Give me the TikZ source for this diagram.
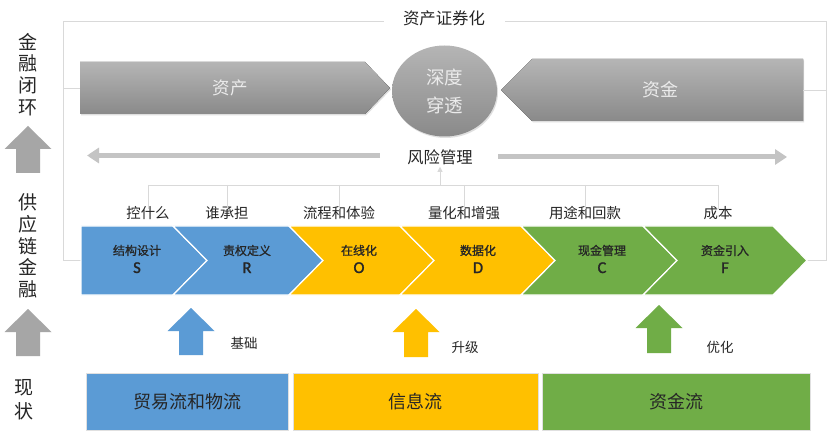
\documentclass[tikz,border=0pt]{standalone}
\usepackage{fontspec}
\setmainfont{Noto Sans CJK SC}
\newfontfamily\latinb[FakeBold=1.5]{Carlito}
\newfontfamily\cjkbold[FakeBold=1.2]{Noto Sans CJK SC}
\usetikzlibrary{arrows.meta,shadows,shapes.geometric}
\definecolor{cblue}{HTML}{5B9BD5}
\definecolor{cyell}{HTML}{FFC000}
\definecolor{cgreen}{HTML}{70AD47}
\definecolor{framec}{HTML}{D9D9D9}
\definecolor{riskc}{HTML}{C4C4C4}
\definecolor{txt}{HTML}{262626}
\newcommand\fs[2]{\fontsize{#1}{#2}\selectfont}
\newcommand\chev[4]{\fill[#3, draw=white, line width=1.2pt] (#1,226) -- (#2,226) -- (#2+34,260.5) -- (#2,295) -- (#1,295) -- (#1+#4,260.5) -- cycle;}
\newcommand\uparr[4]{\fill[#4] (#1,#2) -- (#1+23.5,#2+23) -- (#1+12,#2+23) -- (#1+12,#3) -- (#1-12,#3) -- (#1-12,#2+23) -- (#1-23.5,#2+23) -- cycle;}
\newcommand\chl[2]{{\cjkbold #1}\\{\latinb\fs{16.5}{18}#2}}
\tikzset{
  frameline/.style={draw=framec, line width=0.9pt},
  treeline/.style={draw=framec, line width=0.9pt},
  riskarrow/.style={draw=riskc, line width=5pt, -{Triangle[width=15pt,length=12pt]}},
  grayshape/.style={top color=black!29, bottom color=black!46, draw=none,
     drop shadow={opacity=0.25, shadow xshift=1pt, shadow yshift=-1.5pt}},
  sidetxt/.style={font=\fs{19}{21.7}, text=txt, align=center, inner sep=0pt},
  lbl/.style={font=\fs{14.4}{16}, text=txt, inner sep=1pt},
  chevtxt/.style={align=center, text=txt, inner sep=0pt, font=\fs{12}{18}},
  boxtxt/.style={font=\fs{18}{20}, text=txt},
  smalllbl/.style={font=\fs{13.5}{15}, text=txt},
  whitetxt/.style={text=black!8, align=center}
}
\begin{document}
\begin{tikzpicture}[x=1pt,y=-1pt]
\useasboundingbox (0,0) rectangle (828,433);
\fill[white] (0,0) rectangle (828,433);

% titles
\node[font=\fs{16.4}{18}, text=txt, inner sep=1pt] (title) at (444,18) {资产证券化};
\coordinate (flTL) at (63,21);
\coordinate (flBL) at (63,260.5);
\coordinate (flTR) at (826,21);
\coordinate (flBR) at (826,260.5);
\coordinate (sL) at (81,260.5);
\coordinate (fT) at (807,260.5);
\draw[frameline] (title.west) ++(-18,3) coordinate (tw) -- (flTL) -- (flBL) -- (sL);
\draw[frameline] (title.east) ++(19,3) coordinate (te) -- (flTR) -- (flBR) -- (fT);

% asset / fund arrows
\fill[grayshape] (80,62) -- (365,62) -- (390,88) -- (365,114) -- (80,114) -- cycle;
\fill[grayshape] (803,59) -- (532,59) -- (501,90) -- (532,121) -- (803,121) -- cycle;
\node[whitetxt, font=\fs{17.5}{20}] (asset) at (230,88) {资产};
\node[whitetxt, font=\fs{18}{20}] (fund) at (660,90) {资金};
\coordinate (aL) at (80,88);
\coordinate (fR) at (803,90);
\draw[frameline] (63,88) -- (aL);
\draw[frameline] (826,90) -- (fR);

\node[ellipse, minimum width=105pt, minimum height=91pt, inner sep=0pt, grayshape,
      whitetxt, font=\fs{18.5}{28}] (deep) at (444.5,91) {深度\\穿透};

% risk management
\node[font=\fs{16.3}{18}, text=txt, inner sep=2pt] (risk) at (440,157) {风险管理};
\coordinate (rl) at (380,155.5);
\coordinate (rlt) at (87,155.5);
\coordinate (rr) at (498,157);
\coordinate (rrt) at (787,157);
\draw[riskarrow] (rl) -- (rlt);
\draw[riskarrow] (rr) -- (rrt);

% labels over chevrons
\node[lbl] (l1) at (148,213) {控什么};
\node[lbl] (l2) at (227,213) {谁承担};
\node[lbl] (l3) at (339,213) {流程和体验};
\node[lbl] (l4) at (464,213) {量化和增强};
\node[lbl] (l5) at (585,213) {用途和回款};
\node[lbl] (l6) at (718,213) {成本};
\coordinate (bus) at (0,185);
\draw[treeline] (l1.north |- bus) -- (l6.north |- bus);
\foreach \n in {l1,l2,l3,l4,l5,l6} \draw[treeline] (\n.north |- bus) -- ([yshift=-4pt]\n.north);
\draw[treeline, -{Triangle[width=5pt,length=5pt]}] (risk.south |- bus) -- (risk.south);

% chevrons
\chev{81}{173}{cblue}{0}
\chev{173}{289}{cblue}{34}
\chev{289}{400}{cyell}{34}
\chev{400}{521}{cyell}{34}
\chev{521}{643}{cgreen}{34}
\chev{643}{773}{cgreen}{34}
\node[chevtxt] (cS) at (137,259) {\chl{结构设计}{S}};
\node[chevtxt] (cR) at (247,259) {\chl{责权定义}{R}};
\node[chevtxt] (cO) at (359,259) {\chl{在线化}{O}};
\node[chevtxt] (cD) at (478,259) {\chl{数据化}{D}};
\node[chevtxt] (cC) at (602,259) {\chl{现金管理}{C}};
\node[chevtxt] (cF) at (725,259) {\chl{资金引入}{F}};

% left column
\node[sidetxt] (s1) at (28,74.5) {金\\融\\闭\\环};
\node[sidetxt] (s2) at (28,246) {供\\应\\链\\金\\融};
\node[sidetxt, font=\fs{19}{24}] (s3) at (24,400) {现\\状};
\uparr{28}{126}{173}{black!35}
\uparr{28}{309}{356}{black!35}

% upward coloured arrows
\uparr{191}{308}{355}{cblue}
\uparr{416}{309}{357}{cyell}
\uparr{659}{305}{353}{cgreen}
\node[smalllbl] (u1) at (244,343) {基础};
\node[smalllbl] (u2) at (465,347) {升级};
\node[smalllbl] (u3) at (720,347) {优化};

% bottom boxes
\fill[cblue, draw=black!12, line width=0.6pt] (86,373) rectangle (288,430);
\fill[cyell, draw=black!12, line width=0.6pt] (293,373) rectangle (538,430);
\fill[cgreen, draw=black!12, line width=0.6pt] (542,373) rectangle (810,430);
\node[boxtxt] (b1) at (187,402) {贸易流和物流};
\node[boxtxt] (b2) at (415.5,402) {信息流};
\node[boxtxt] (b3) at (676,402) {资金流};
\end{tikzpicture}
\end{document}
